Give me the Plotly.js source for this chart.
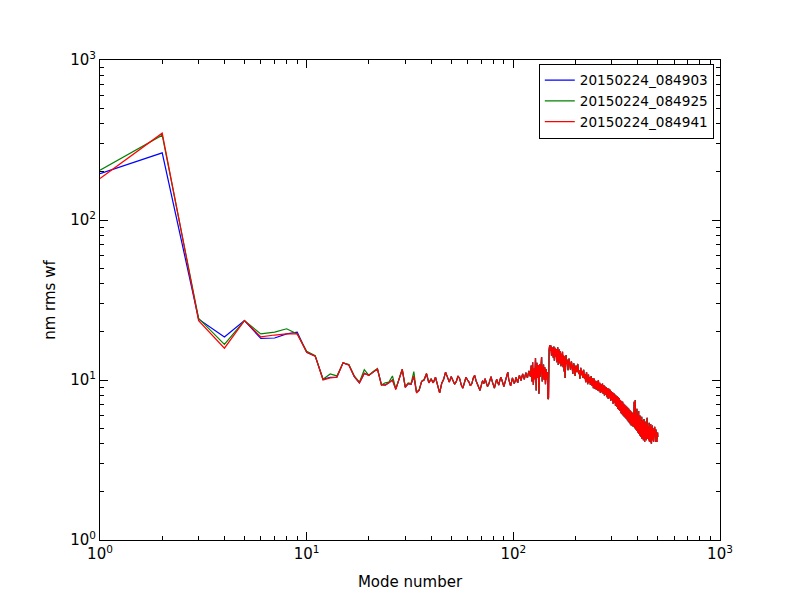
<!DOCTYPE html>
<html>
<head>
<meta charset="utf-8">
<script src="https://cdn.plot.ly/plotly-3.0.1.min.js"></script>
<style>html,body{margin:0;padding:0;background:#fff;}#chart{width:800px;height:600px;}</style>
</head>
<body>
<div id="chart"></div>
<script>
// Series names
const seriesNames = ["20150224_084903", "20150224_084925", "20150224_084941"];

// Modes 1-40, per series (nm rms wf)
const blueHead = [195, 263, 24.0, 18.6, 23.5, 18.2, 18.3, 19.4, 19.9, 14.9,
  14.1, 10.1, 10.4, 10.4, 12.8, 12.4, 10.5, 9.6, 11.0, 10.7,
  11.2, 11.7, 9.4, 9.3, 9.6, 10.0, 8.8, 10.2, 11.6, 9.0,
  9.5, 9.4, 10.5, 8.4, 8.6, 9.8, 10.0, 10.9, 9.6, 10.1];
const greenHead = [205, 339, 24.3, 16.7, 23.5, 19.4, 19.9, 20.9, 19.4, 15.1,
  14.2, 10.1, 10.9, 10.6, 12.8, 12.5, 10.6, 9.7, 11.6, 10.7,
  11.3, 11.8, 9.3, 9.6, 9.7, 10.6, 8.8, 10.1, 11.7, 9.1,
  9.6, 9.5, 11.3, 8.4, 8.7, 9.8, 10.1, 11.0, 9.6, 10.2];
const redHead = [182, 349, 23.5, 15.8, 23.5, 18.6, 19.1, 19.4, 19.4, 14.9,
  14.1, 10.0, 10.3, 10.4, 12.8, 12.4, 10.5, 9.6, 11.0, 10.7,
  11.2, 11.7, 9.3, 9.3, 9.6, 10.0, 8.7, 10.2, 11.7, 9.0,
  9.5, 9.4, 10.6, 8.3, 8.6, 9.8, 10.0, 11.0, 9.6, 10.1];

// Modes 41-500, common to all three series
const tailValues = [
  9.6, 10.4, 9.1, 8.3, 9.5, 10.1, 11.2, 10.3, 9.7, 10.5,
  10.0, 9.4, 9.8, 10.6, 10.2, 9.3, 8.9, 9.6, 10.4, 10.0,
  9.7, 9.2, 9.5, 10.3, 10.7, 9.9, 9.4, 8.8, 8.6, 9.3,
  9.9, 9.5, 10.2, 9.6, 9.1, 9.4, 10.0, 10.5, 9.8, 9.2,
  8.9, 9.5, 10.1, 9.7, 9.3, 9.9, 10.4, 10.0, 9.5, 9.1,
  9.6, 10.2, 10.6, 11.2, 10.1, 9.6, 9.2, 9.7, 10.3, 9.9,
  9.5, 9.8, 10.4, 10.0, 9.6, 10.2, 10.7, 10.3, 9.9, 10.5,
  10.9, 10.4, 10.1, 10.6, 11.1, 10.7, 10.3, 10.9, 11.4, 10.8,
  10.5, 12.3, 9.8, 12.9, 9.3, 11.8, 10.1, 13.7, 8.6, 12.8,
  10.3, 12.4, 8.2, 12.6, 10.5, 11.9, 13.9, 9.8, 11.4, 12.5,
  10.0, 12.0, 9.4, 11.7, 10.1, 11.2, 7.6, 7.7, 15.5, 16.5,
  15.2, 16.4, 14.2, 16.0, 15.3, 13.8, 16.2, 13.2, 15.9, 14.0,
  15.6, 12.9, 15.1, 16.0, 12.4, 14.8, 15.5, 12.7, 15.2, 12.2,
  14.6, 12.5, 15.0, 12.0, 14.2, 11.3, 14.0, 10.3, 13.5, 14.3,
  12.6, 13.4, 12.1, 11.5, 12.8, 13.6, 12.9, 12.2, 11.6, 12.4,
  13.1, 12.5, 11.8, 10.9, 12.0, 12.7, 12.2, 11.4, 10.6, 11.5,
  12.3, 11.7, 11.2, 12.0, 12.6, 11.8, 10.9, 11.5, 10.8, 10.2,
  11.1, 11.9, 11.3, 10.7, 11.4, 10.9, 10.3, 11.0, 11.6, 10.8,
  10.2, 10.9, 10.4, 9.7, 10.5, 11.2, 10.6, 9.9, 9.4, 10.3,
  10.8, 10.1, 9.6, 10.4, 9.9, 9.3, 10.0, 10.6, 9.8, 9.2,
  9.7, 10.3, 9.5, 8.9, 9.6, 10.2, 9.4, 8.8, 9.3, 9.9,
  9.4, 8.7, 9.2, 9.8, 9.1, 8.6, 9.5, 10.0, 9.0, 8.5,
  9.1, 9.6, 8.9, 8.3, 8.8, 9.4, 9.0, 8.4, 8.9, 9.5,
  8.7, 8.2, 8.8, 9.3, 8.6, 8.0, 8.5, 9.1, 8.7, 8.1,
  8.6, 9.0, 8.3, 7.8, 8.4, 8.9, 8.2, 7.6, 8.1, 8.8,
  8.4, 7.7, 8.2, 8.7, 8.0, 7.4, 7.9, 8.5, 8.1, 7.5,
  7.9, 8.4, 7.6, 7.1, 7.7, 8.3, 7.8, 7.2, 7.6, 8.1,
  7.4, 6.9, 7.5, 8.0, 7.3, 6.8, 7.4, 7.9, 7.1, 6.6,
  7.2, 7.8, 7.0, 6.5, 7.1, 7.7, 6.9, 6.4, 7.0, 7.5,
  6.8, 6.2, 6.9, 7.4, 6.6, 6.1, 6.7, 7.3, 6.5, 6.0,
  6.6, 7.1, 6.4, 5.9, 6.5, 7.0, 6.3, 5.8, 6.4, 6.9,
  6.2, 5.7, 6.3, 6.8, 6.1, 5.6, 6.2, 6.7, 6.0, 5.5,
  6.1, 6.6, 5.9, 5.4, 6.0, 6.5, 5.8, 5.3, 5.9, 6.4,
  5.7, 5.2, 5.8, 6.3, 5.6, 5.2, 5.7, 6.2, 5.5, 5.1,
  5.6, 6.1, 5.4, 7.3, 5.5, 5.0, 5.6, 6.0, 7.5, 5.3,
  4.9, 5.5, 5.9, 5.2, 4.8, 6.6, 5.4, 5.8, 5.1, 4.7,
  5.3, 5.7, 5.0, 6.4, 4.6, 5.2, 5.6, 4.9, 4.5, 6.0,
  5.1, 5.5, 4.8, 4.4, 5.0, 5.4, 4.7, 5.9, 4.3, 4.9,
  5.3, 4.6, 5.0, 5.6, 4.5, 4.2, 4.8, 5.2, 5.7, 4.4,
  4.7, 4.1, 5.1, 5.5, 4.6, 4.3, 4.9, 5.3, 4.5, 4.2,
  4.8, 5.2, 4.4, 5.8, 4.7, 4.3, 4.9, 5.1, 4.4, 4.6,
  5.0, 4.2, 4.7, 5.4, 4.5, 4.1, 4.8, 5.2, 4.6, 4.3,
  4.9, 5.3, 4.4, 4.1, 4.7, 4.0, 4.6, 5.1, 4.3, 4.8,
  5.2, 4.5, 4.2, 4.7, 5.0, 4.3, 4.1, 4.6, 4.9, 4.4,
  4.2, 4.7, 5.1, 4.5, 4.2, 4.8, 4.4, 4.1, 4.6, 4.9,
  4.5, 4.2, 4.7, 4.4, 4.1, 4.6, 4.3, 4.5, 4.7, 4.4
];

const seriesColors = ["#0000ff", "#008000", "#ff0000"];
const heads = [blueHead, greenHead, redHead];

const tickValsMajor = [1, 10, 100, 1000];
const tickTextMajor = ["10<sup>0</sup>", "10<sup>1</sup>", "10<sup>2</sup>", "10<sup>3</sup>"];

const traces = heads.map((h, k) => {
  const y = h.concat(tailValues);
  const x = y.map((_, i) => i + 1);
  return {
    x: x, y: y, type: "scatter", mode: "lines", name: seriesNames[k],
    line: {color: seriesColors[k], width: 1.2}
  };
});

const minorVals = [];
for (let d = 1; d < 1000; d *= 10) {
  for (let m = 2; m <= 9; m++) minorVals.push(m * d);
}

const axisCommon = {
  type: "log", range: [0, 3],
  showline: true, linecolor: "#000", linewidth: 1, mirror: "ticks",
  ticks: "inside", ticklen: 8, tickwidth: 1, tickcolor: "#000",
  tickmode: "array", tickvals: tickValsMajor, ticktext: tickTextMajor,
  showgrid: false, zeroline: false,
  tickfont: {family: "DejaVu Sans", size: 15, color: "#000"},
  minor: {tickmode: "array", tickvals: minorVals, ticks: "inside", ticklen: 4, tickwidth: 1, tickcolor: "#000", showgrid: false}
};

const layout = {
  width: 800, height: 600,
  margin: {l: 100, r: 80, t: 60, b: 60},
  paper_bgcolor: "#fff", plot_bgcolor: "#fff",
  showlegend: true,
  font: {family: "DejaVu Sans", color: "#000"},
  xaxis: Object.assign({}, axisCommon, {
    title: {text: "Mode number", font: {family: "DejaVu Sans", size: 15}, standoff: 14}
  }),
  yaxis: Object.assign({}, axisCommon, {
    title: {text: "nm rms wf", font: {family: "DejaVu Sans", size: 15}, standoff: 10}
  }),
  legend: {
    x: 0.99, y: 0.992, xanchor: "right", yanchor: "top",
    bordercolor: "#000", borderwidth: 1, bgcolor: "#fff",
    font: {family: "DejaVu Sans", size: 13.6},
    tracegroupgap: 0
  }
};

Plotly.newPlot("chart", traces, layout, {displayModeBar: false, staticPlot: true});
</script>
</body>
</html>
